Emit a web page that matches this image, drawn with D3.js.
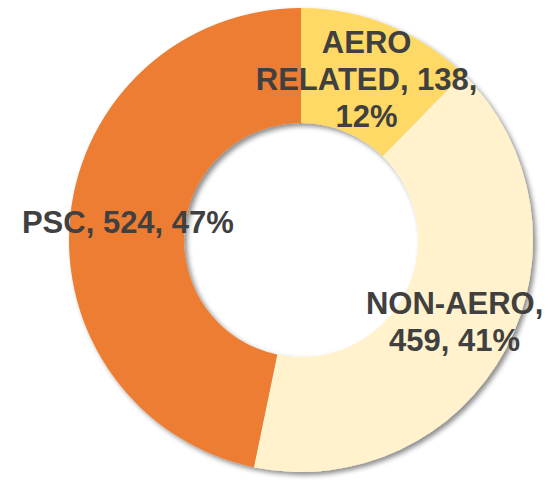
<!DOCTYPE html>
<html>
<head>
<meta charset="utf-8">
<script src="https://cdn.jsdelivr.net/npm/d3@7"></script>
<style>
  html, body { margin: 0; padding: 0; background: #ffffff; }
  svg { display: block; }
</style>
</head>
<body>
<svg id="chart" width="549" height="482"></svg>
<script>
// Data
const categories = ["AERO RELATED", "NON-AERO", "PSC"];
const values = [138, 459, 524];
const labelLines = [
  ["AERO", "RELATED, 138,", "12%"],
  ["NON-AERO,", "459, 41%"],
  ["PSC, 524, 47%"]
];
const colors = ["#FFD966", "#FFF2CC", "#ED7D31"];

const svg = d3.select("#chart");
const cx = 301, cy = 240;
const outerR = 232, innerR = 117;

const defs = svg.append("defs");
const f = defs.append("filter").attr("id", "shadow")
  .attr("x", "-10%").attr("y", "-10%").attr("width", "120%").attr("height", "120%");
f.append("feDropShadow")
  .attr("dx", 3).attr("dy", 3).attr("stdDeviation", 2.5)
  .attr("flood-color", "#000").attr("flood-opacity", 0.45);

const data = categories.map((c, i) => ({ name: c, value: values[i], lines: labelLines[i], color: colors[i] }));

const pie = d3.pie().value(d => d.value).sort(null);
const arcs = pie(data);
const arc = d3.arc().innerRadius(innerR).outerRadius(outerR);
const labelArc = d3.arc().innerRadius(174).outerRadius(174);

const g = svg.append("g").attr("transform", `translate(${cx},${cy})`);
g.append("g").attr("filter", "url(#shadow)")
  .selectAll("path").data(arcs).join("path")
  .attr("d", arc)
  .attr("fill", d => d.data.color);

const lineH = 37;
const labels = g.selectAll("text.lbl").data(arcs).join("text")
  .attr("class", "lbl")
  .attr("text-anchor", "middle")
  .attr("font-family", "'Liberation Sans', Arial, sans-serif")
  .attr("font-weight", "bold")
  .attr("font-size", 31)
  .attr("fill", "#404040")
  .attr("transform", d => { const [x, y] = labelArc.centroid(d); return `translate(${x},${y})`; });

labels.each(function(d) {
  const n = d.data.lines.length;
  const t = d3.select(this);
  d.data.lines.forEach((ln, i) => {
    t.append("tspan")
      .attr("x", 0)
      .attr("y", (i - (n - 1) / 2) * lineH + 11)
      .text(ln);
  });
});
</script>
</body>
</html>
